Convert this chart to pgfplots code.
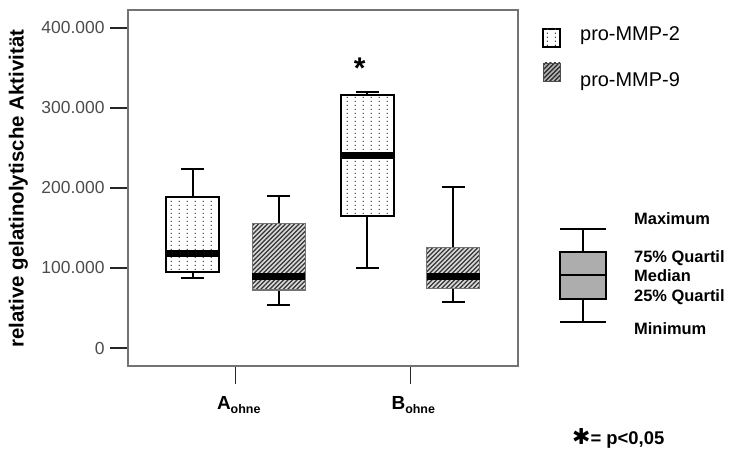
\documentclass[border=0pt]{standalone}
\usepackage{fontspec}
\setmainfont{Liberation Sans}
\newfontfamily\symfont{DejaVu Sans}
\usepackage{pgfplots}
\pgfplotsset{compat=1.18}
\usepgfplotslibrary{statistics}
\usetikzlibrary{patterns}

% columns of small dots for the pro-MMP-2 boxes
\pgfdeclarepatternformonly{vdots}{\pgfpointorigin}{\pgfpoint{8bp}{4bp}}{\pgfpoint{8bp}{4bp}}{%
  \pgfpathrectangle{\pgfpoint{3bp}{1.4bp}}{\pgfpoint{1.3bp}{1.3bp}}\pgfusepath{fill}}
% diagonal hatching for the pro-MMP-9 boxes
\pgfdeclarepatternformonly{hatch}{\pgfpoint{-1bp}{-1bp}}{\pgfpoint{5.5bp}{5.5bp}}{\pgfpoint{4.5bp}{4.5bp}}{%
  \pgfsetlinewidth{1.1bp}%
  \pgfpathmoveto{\pgfpointorigin}\pgfpathlineto{\pgfpoint{4.6bp}{4.6bp}}\pgfusepath{stroke}}

\pgfplotsset{
  mmp2/.style={
    black, line width=2bp, solid,
    boxplot/every box/.style={draw=black, line width=2bp, fill=white,
      postaction={pattern color=black!65, pattern=vdots}},
    boxplot/every median/.style={line width=7bp, black},
    boxplot/every whisker/.style={line width=2bp, black},
  },
  mmp9/.style={
    black, line width=2bp, solid,
    boxplot/every box/.style={draw=black!55, line width=1.2bp, fill=black!15,
      postaction={pattern color=black!80, pattern=hatch}},
    boxplot/every median/.style={line width=7bp, black},
    boxplot/every whisker/.style={line width=2bp, black},
  },
}

\begin{document}
\begin{tikzpicture}
\path[use as bounding box] (0bp,0bp) rectangle (729bp,451bp);

\begin{axis}[
  at={(128bp,85bp)}, anchor=south west, scale only axis,
  width=390bp, height=356bp,
  boxplot/draw direction=y,
  xmin=0.383, xmax=2.617, ymin=-22.5, ymax=422.5,
  xtick={1,2},
  xticklabels={{\fontsize{19}{19}\selectfont\bfseries A\raisebox{-4bp}{\fontsize{12.5}{12.5}\selectfont ohne}},
               {\fontsize{19}{19}\selectfont\bfseries B\raisebox{-4bp}{\fontsize{12.5}{12.5}\selectfont ohne}}},
  ytick={0,100,200,300,400},
  yticklabels={0,100.000,200.000,300.000,400.000},
  tick align=outside, major tick length=18bp,
  xtick pos=bottom, ytick pos=left,
  tick style={black!85, line width=1.3bp},
  axis line style={black!55, line width=1.4bp},
  yticklabel style={font=\fontsize{17.5}{17.5}\selectfont, text=black!70, xshift=-2bp},
  xticklabel style={yshift=-9bp, xshift=3bp},
  clip=false,
]
% pro-MMP-2, group A
\addplot[mmp2, boxplot prepared={draw position=0.754, box extend=0.303, whisker extend=0.13,
  lower whisker=87, lower quartile=95, median=117.5, upper quartile=189, upper whisker=224}] coordinates {};
% pro-MMP-9, group A
\addplot[mmp9, boxplot prepared={draw position=1.246, box extend=0.303, whisker extend=0.13,
  lower whisker=54, lower quartile=72.5, median=89, upper quartile=156, upper whisker=190}] coordinates {};
% pro-MMP-2, group B
\addplot[mmp2, boxplot prepared={draw position=1.754, box extend=0.303, whisker extend=0.13,
  lower whisker=100, lower quartile=165, median=240, upper quartile=316, upper whisker=320}] coordinates {};
% pro-MMP-9, group B
\addplot[mmp9, boxplot prepared={draw position=2.246, box extend=0.303, whisker extend=0.13,
  lower whisker=57, lower quartile=74, median=89, upper quartile=126, upper whisker=201}] coordinates {};
% significance mark
\node[font=\fontsize{30}{30}\selectfont\bfseries, inner sep=0pt] at (axis cs:1.71,350) {*};
\end{axis}

% explanatory box
\begin{axis}[
  at={(560bp,129bp)}, anchor=south west, scale only axis,
  width=46bp, height=93bp,
  boxplot/draw direction=y,
  xmin=0, xmax=1, ymin=0, ymax=100,
  hide axis, clip=false,
]
\addplot[black, line width=1.4bp, solid,
  boxplot prepared={draw position=0.5, box extend=1, whisker extend=1,
    lower whisker=0, lower quartile=24.7, median=50.5, upper quartile=75.3, upper whisker=100,
    every box/.style={draw=black, line width=1.4bp, fill=black!32},
    every median/.style={line width=2.6bp, black}}] coordinates {};
\end{axis}

% y axis title
\node[rotate=90, anchor=base, font=\fontsize{20.5}{20.5}\selectfont\bfseries, inner sep=0pt]
  at (23.5bp,262.5bp) {relative gelatinolytische Aktivität};

% legend
\draw[black, line width=1.2bp, fill=white, postaction={pattern color=black!75, pattern=vdots}]
  (543bp,404bp) rectangle (560bp,422bp);
\fill[black!30] (543bp,370bp) rectangle (560bp,388bp);
\path[draw=black!70, line width=0.8bp, pattern color=black!85, pattern=hatch]
  (543bp,370bp) rectangle (560bp,388bp);
\node[anchor=base west, font=\fontsize{20}{20}\selectfont, inner sep=0pt] at (580bp,410bp) {pro-MMP-2};
\node[anchor=base west, font=\fontsize{20}{20}\selectfont, inner sep=0pt] at (580bp,364bp) {pro-MMP-9};

% key labels
\begin{scope}[every node/.style={anchor=base west, font=\fontsize{16.5}{16.5}\selectfont\bfseries, inner sep=0pt}]
\node at (634bp,226bp) {Maximum};
\node at (634bp,188bp) {75\% Quartil};
\node at (634bp,169bp) {Median};
\node at (634bp,149bp) {25\% Quartil};
\node at (634bp,116bp) {Minimum};
\end{scope}

% significance note
\node[anchor=base west, inner sep=0pt] at (572bp,6.5bp)
  {{\symfont\fontsize{22}{22}\selectfont\bfseries ✱}{\fontsize{18.5}{18.5}\selectfont\bfseries= p<0,05}};
\end{tikzpicture}
\end{document}
